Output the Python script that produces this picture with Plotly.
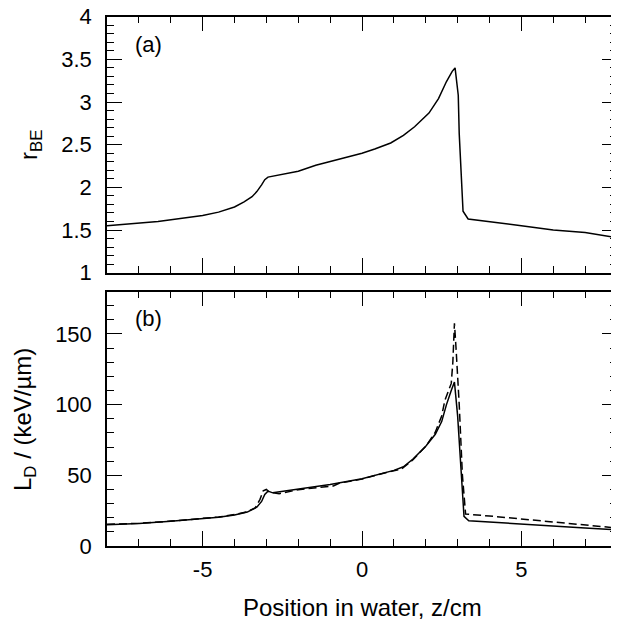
import plotly.graph_objects as go

# ---- data ----
z_rbe = [-8, -7, -6.4, -5, -4.5, -4.0, -3.7, -3.45, -3.3, -3.15, -3.05, -2.95, -2.7,
         -2.0, -1.45, -0.7, 0, 0.4, 0.9, 1.3, 1.65, 2.1, 2.4, 2.65, 2.83, 2.92,
         3.02, 3.05, 3.12, 3.17, 3.33, 4.0, 5.0, 6.0, 7.0, 8.0]
r_be = [1.55, 1.58, 1.60, 1.67, 1.71, 1.77, 1.83, 1.89, 1.95, 2.03, 2.09, 2.12, 2.14,
        2.19, 2.26, 2.33, 2.40, 2.45, 2.52, 2.61, 2.71, 2.87, 3.04, 3.24, 3.36, 3.40,
        3.08, 2.63, 2.00, 1.72, 1.63, 1.60, 1.55, 1.50, 1.47, 1.41]

z_ld_solid = [-8, -7, -6, -5, -4.5, -4, -3.6, -3.3, -3.15, -3.05, -2.95, -2.8, -2, -1, 0,
              0.5, 1.0, 1.3, 1.6, 2.0, 2.3, 2.5, 2.65, 2.8, 2.9, 3.0, 3.1, 3.2, 3.35,
              4, 5, 6, 7, 8]
ld_solid = [15.1, 16.0, 17.5, 19.1, 20.3, 22.0, 24.0, 27.5, 31.5, 36.5, 38.8, 37.6, 40.0,
            43.5, 47.5, 50.5, 53.5, 56.0, 61.5, 70.5, 79.0, 88.0, 100.0, 110.0, 116.0,
            92.0, 55.0, 21.0, 17.8, 17.0, 15.6, 14.2, 12.8, 11.3]

z_ld_dash = [-8, -7, -6, -5, -4.5, -4, -3.6, -3.35, -3.2, -3.1, -3.0, -2.9, -2.6, -2,
             -1.2, -0.9, -0.7, 0, 0.5, 1.0, 1.25, 1.3, 1.6, 2.0, 2.3, 2.5, 2.6, 2.7,
             2.8, 2.85, 2.9, 2.95, 3.05, 3.15, 3.25, 4, 5, 6, 7, 8]
ld_dash = [15.3, 16.1, 17.6, 19.3, 20.5, 22.2, 24.2, 27.0, 33.0, 39.0, 40.0, 38.0, 37.0,
           39.8, 42.0, 42.5, 44.5, 47.3, 50.5, 53.5, 54.5, 55.5, 61.0, 70.5, 80.5, 92.0,
           103.0, 109.0, 115.0, 130.0, 157.5, 140.0, 100.0, 50.0, 22.6, 21.2, 19.2,
           17.0, 14.9, 12.7]

x_tickvals = [-5, 0, 5]
x_ticktext = ["-5", "0", "5"]
x_minor = 1
y1_major, y1_minor = 0.5, 0.1
y2_major, y2_minor = 50, 10

FONT = "Liberation Sans, Arial, sans-serif"
OFF = 8                      # browser body margin
W, H = 619 - OFF, 621 - OFF


def px(v):
    return (v - OFF) / W


def py(v):
    return 1 - (v - OFF) / H


fig = go.Figure()
fig.add_trace(go.Scatter(x=z_rbe, y=r_be, mode="lines",
                         line=dict(color="black", width=1.5), xaxis="x", yaxis="y"))
fig.add_trace(go.Scatter(x=z_ld_dash, y=ld_dash, mode="lines",
                         line=dict(color="black", width=1.5, dash="8px,4px"),
                         xaxis="x2", yaxis="y2"))
fig.add_trace(go.Scatter(x=z_ld_solid, y=ld_solid, mode="lines",
                         line=dict(color="black", width=1.5), xaxis="x2", yaxis="y2"))
# empty traces: they only carry the minor-tick axes (separate subplots on top)
fig.add_trace(go.Scatter(x=[], y=[], mode="lines", xaxis="x3", yaxis="y3",
                         hoverinfo="skip"))
fig.add_trace(go.Scatter(x=[], y=[], mode="lines", xaxis="x4", yaxis="y4",
                         hoverinfo="skip"))

xdom = [px(107), px(617)]
dom_top = [py(272.7), py(16.7)]
dom_bot = [py(546), py(291.5)]
tf = dict(family=FONT, size=22, color="black")

major = dict(showline=True, linecolor="black", linewidth=1.5, mirror="allticks",
             ticks="inside", ticklen=15, tickwidth=1.2, tickcolor="black",
             showgrid=False, zeroline=False, tickfont=tf)
minor_ax = dict(showline=True, linecolor="black", linewidth=1.5, mirror="allticks",
                ticks="inside", ticklen=7, tickwidth=1, tickcolor="black",
                showgrid=False, zeroline=False, showticklabels=False,
                tickmode="linear", tick0=0, fixedrange=True)

fig.update_layout(
    template="none",
    width=W, height=H, margin=dict(l=0, r=0, t=0, b=0, pad=0),
    paper_bgcolor="white", plot_bgcolor="rgba(0,0,0,0)", showlegend=False,
    # top panel
    xaxis=dict(domain=xdom, range=[-8, 8], anchor="y", tickmode="array",
               tickvals=x_tickvals, showticklabels=False, **major),
    yaxis=dict(domain=dom_top, range=[1, 4], anchor="x", tickmode="linear", tick0=1,
               dtick=y1_major, ticklabelstandoff=9, ticklabeloverflow="allow",
               **major),
    xaxis3=dict(domain=xdom, range=[-8, 8], anchor="y3", dtick=x_minor, **minor_ax),
    yaxis3=dict(domain=dom_top, range=[1, 4], anchor="x3", dtick=y1_minor, **minor_ax),
    # bottom panel
    xaxis2=dict(domain=xdom, range=[-8, 8], anchor="y2", tickmode="array",
                tickvals=x_tickvals, ticktext=x_ticktext, ticklabelstandoff=3,
                **major),
    yaxis2=dict(domain=dom_bot, range=[0, 180], anchor="x2", tickmode="linear",
                tick0=0, dtick=y2_major, ticklabelstandoff=9, **major),
    xaxis4=dict(domain=xdom, range=[-8, 8], anchor="y4", dtick=x_minor, **minor_ax),
    yaxis4=dict(domain=dom_bot, range=[0, 180], anchor="x4", dtick=y2_minor,
                **minor_ax),
)

ann_font = dict(family=FONT, size=22, color="black")
title_font = dict(family=FONT, size=24, color="black")
fig.add_annotation(text="(a)", x=px(133), y=py(45), xref="paper", yref="paper",
                   xanchor="left", yanchor="middle", showarrow=False, font=ann_font)
fig.add_annotation(text="(b)", x=px(133), y=py(318), xref="paper", yref="paper",
                   xanchor="left", yanchor="middle", showarrow=False, font=ann_font)
fig.add_annotation(text="r<sub>BE</sub>", x=px(30), y=py(145), xref="paper",
                   yref="paper", xanchor="center", yanchor="middle", textangle=-90,
                   showarrow=False, font=title_font)
fig.add_annotation(text="L<sub>D</sub> / (keV/µm)", x=px(24), y=py(420),
                   xref="paper", yref="paper", xanchor="center", yanchor="middle",
                   textangle=-90, showarrow=False, font=title_font)
fig.add_annotation(text="Position in water, z/cm", x=px(362), y=py(607),
                   xref="paper", yref="paper", xanchor="center", yanchor="middle",
                   showarrow=False, font=title_font)

fig.write_html("out.html")
